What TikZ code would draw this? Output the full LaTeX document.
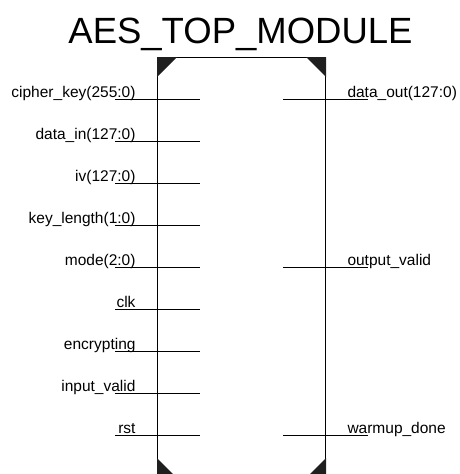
\documentclass[tikz,border=0pt]{standalone}
\usepackage{fontspec}
\setmainfont{Liberation Sans}
\begin{document}
\begin{tikzpicture}[x=1pt,y=-1pt,line width=1pt,
  port/.style={font=\fontsize{15.5}{18}\selectfont,inner sep=0pt},
  corner/.style={fill=black!88}]
 \useasboundingbox (0,0) rectangle (459,474);
 \clip (0,0) rectangle (459,474);
 \node[font=\fontsize{36.5}{40}\selectfont,inner sep=0pt,anchor=base] (title) at (240.5,43) {AES\_TOP\_MODULE};
 \node[draw,minimum width=168pt,minimum height=420pt,inner sep=0pt,anchor=north west] (box) at (157,57) {};
 \fill[corner] (box.north west) -- ++(20,0) -- ++(-20,20) -- cycle;
 \fill[corner] (box.north east) -- ++(-20,0) -- ++(20,20) -- cycle;
 \fill[corner] (box.south west) -- ++(0,-20) -- ++(20,20) -- cycle;
 \fill[corner] (box.south east) -- ++(0,-20) -- ++(-20,20) -- cycle;
 % inputs
 \foreach \nm/\txt [count=\i from 0] in {key/cipher\_key(255:0), din/data\_in(127:0),
   iv/iv(127:0), klen/key\_length(1:0), mode/mode(2:0), clk/clk,
   enc/encrypting, ivld/input\_valid, rst/rst} {
  \coordinate (\nm-o) at (115,99+42*\i);
  \coordinate (\nm-i) at (200,99+42*\i);
  \draw (\nm-o) -- (\nm-i);
  \node[port,anchor=base east] (\nm-lbl) at (136,97+42*\i) {\txt};
 }
 % outputs
 \foreach \nm/\txt/\k in {dout/data\_out(127:0)/0, ovld/output\_valid/4,
   wdone/warmup\_done/8} {
  \coordinate (\nm-i) at (283,99+42*\k);
  \coordinate (\nm-o) at (368,99+42*\k);
  \draw (\nm-i) -- (\nm-o);
  \node[port,anchor=base west] (\nm-lbl) at (347,97+42*\k) {\txt};
 }
\end{tikzpicture}
\end{document}
